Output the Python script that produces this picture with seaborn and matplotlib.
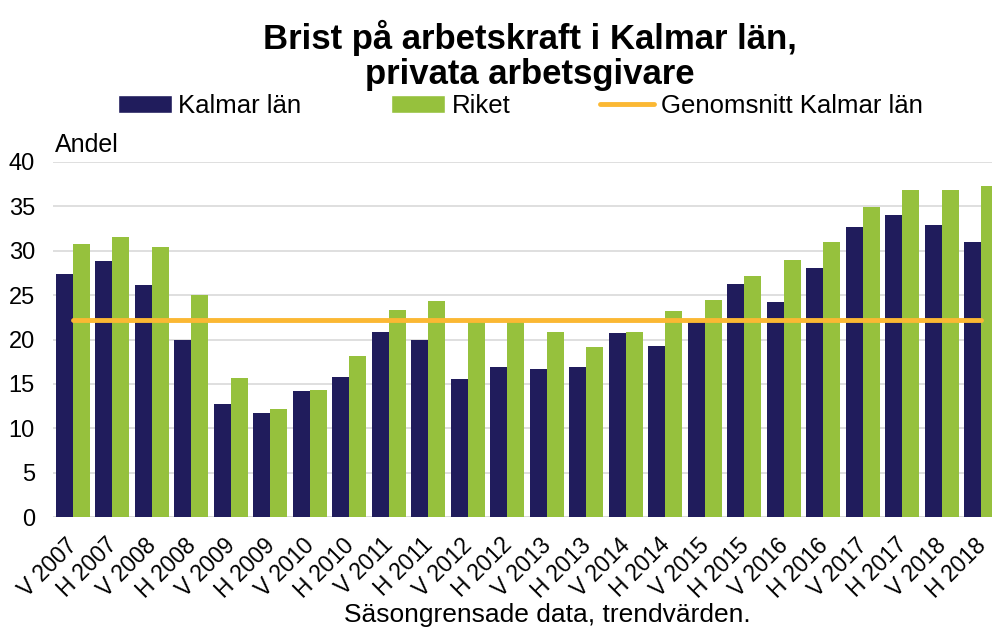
import numpy as np
import pandas as pd
import matplotlib
matplotlib.use("Agg")
import matplotlib.pyplot as plt
import matplotlib.transforms as mtransforms
from matplotlib.patches import Patch
from matplotlib.lines import Line2D
import seaborn as sns

periods = ["V 2007", "H 2007", "V 2008", "H 2008", "V 2009", "H 2009",
           "V 2010", "H 2010", "V 2011", "H 2011", "V 2012", "H 2012",
           "V 2013", "H 2013", "V 2014", "H 2014", "V 2015", "H 2015",
           "V 2016", "H 2016", "V 2017", "H 2017", "V 2018", "H 2018"]
kalmar = [27.4, 28.9, 26.1, 19.9, 12.7, 11.7, 14.2, 15.8, 20.8, 20.0, 15.6, 16.9,
          16.7, 16.9, 20.7, 19.3, 22.0, 26.2, 24.2, 28.1, 32.7, 34.0, 32.9, 31.0]
riket = [30.8, 31.5, 30.4, 25.0, 15.7, 12.2, 14.3, 18.1, 23.3, 24.3, 22.3, 22.1,
         20.8, 19.1, 20.9, 23.2, 24.5, 27.2, 29.0, 31.0, 34.9, 36.8, 36.9, 37.3]
avg_kalmar = 22.2
avg_line = [avg_kalmar] * len(periods)

navy = "#201C5C"
green = "#96C13D"
orange = "#FBB833"

df = pd.DataFrame({
    "period": periods * 2,
    "value": kalmar + riket,
    "serie": ["Kalmar län"] * len(periods) + ["Riket"] * len(periods),
})

sns.set_theme(style="white")
plt.rcParams["font.family"] = ["Liberation Sans", "DejaVu Sans"]
plt.rcParams["text.color"] = "black"
plt.rcParams["xtick.color"] = "black"
plt.rcParams["ytick.color"] = "black"
plt.rcParams["axes.labelcolor"] = "black"

fig = plt.figure(figsize=(9.92, 6.32), dpi=100)
ax = fig.add_axes([53 / 992, 1 - 517 / 632, 948 / 992, 355 / 632])

sns.barplot(data=df, x="period", y="value", hue="serie", order=periods,
            palette={"Kalmar län": navy, "Riket": green}, width=0.86,
            saturation=1, legend=False, ax=ax, edgecolor="none")
ax.plot(range(len(periods)), avg_line, color=orange, lw=3.5,
        solid_capstyle="round", zorder=4)

ax.set_ylim(0, 40)
ax.set_xlim(-0.5, len(periods) - 0.5)
ax.set_yticks(range(0, 41, 5))
ax.yaxis.grid(True, color="#D9D9D9", lw=1.2)
ax.set_axisbelow(True)
for s in ax.spines.values():
    s.set_visible(False)
ax.axhline(0, color="#D9D9D9", lw=1.8, zorder=0)
ax.tick_params(axis="y", labelsize=17, pad=13, length=0)
ax.tick_params(axis="x", labelsize=16.5, pad=12, length=0)
shift = mtransforms.ScaledTranslation(-7 / 100, 0, fig.dpi_scale_trans)
for lbl in ax.get_xticklabels():
    lbl.set_rotation(45)
    lbl.set_ha("right")
    lbl.set_rotation_mode("anchor")
    lbl.set_transform(lbl.get_transform() + shift)
ax.set_ylabel("")
ax.set_xlabel("Säsongrensade data, trendvärden.", fontsize=19)
ax.xaxis.set_label_coords((547 - 53) / 948, -(615 - 517) / 355)
ax.xaxis.label.set_va("center")

fig.text(55 / 992, 1 - 145 / 632, "Andel", fontsize=18, va="center", ha="left")
fig.text(530 / 992, 1 - 55 / 632, "Brist på arbetskraft i Kalmar län,\nprivata arbetsgivare",
         fontsize=25, fontweight="bold", ha="center", va="center", linespacing=1.08)

handles = [Patch(facecolor=navy), Patch(facecolor=green),
           Line2D([0], [0], color=orange, lw=3.5)]
fig.legend(handles, ["Kalmar län", "Riket", "Genomsnitt Kalmar län"],
           loc="center", bbox_to_anchor=(520 / 992, 1 - 106 / 632), ncol=3,
           frameon=False, fontsize=18.5, handlelength=2.1, handleheight=0.65,
           handletextpad=0.25, columnspacing=3.5, borderaxespad=0, borderpad=0)

fig.savefig("out.png", dpi=100)
